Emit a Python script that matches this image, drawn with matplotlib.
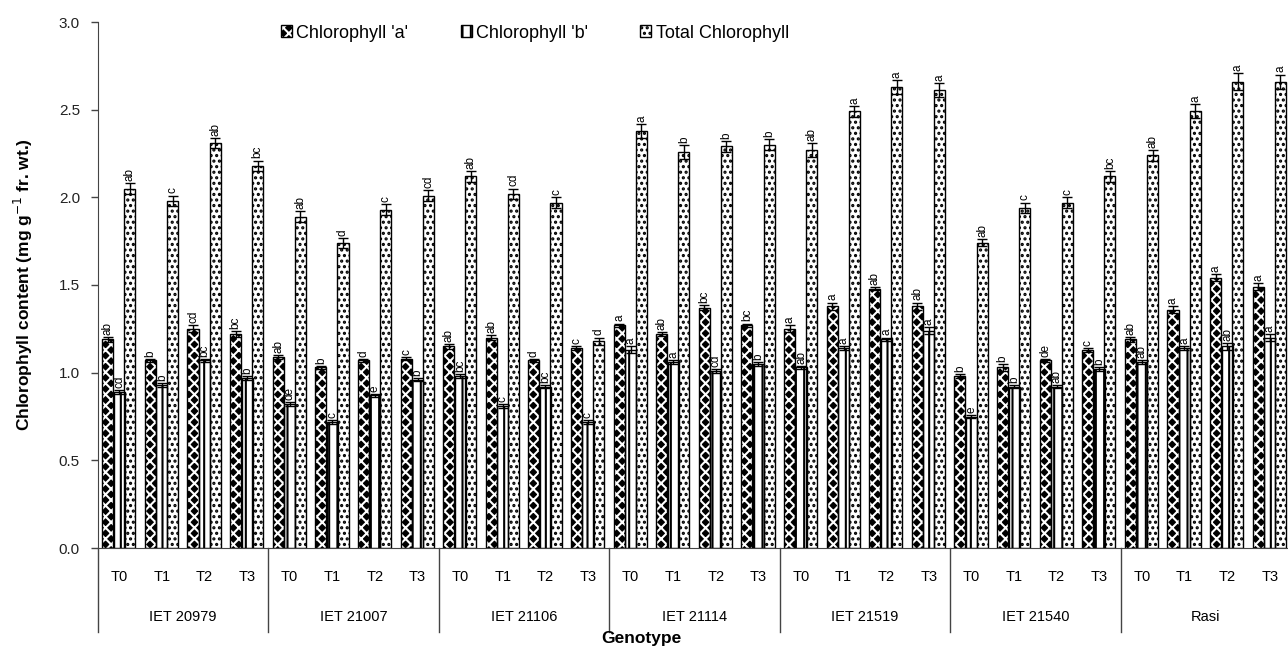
import matplotlib
matplotlib.use('Agg')
import matplotlib.pyplot as plt
import matplotlib.transforms as mtransforms
from matplotlib.patches import Patch
from matplotlib.legend_handler import HandlerTuple
import numpy as np

plt.rcParams['font.family'] = ['Liberation Sans', 'DejaVu Sans']
plt.rcParams['hatch.linewidth'] = 1.5

genotypes = ['IET 20979', 'IET 21007', 'IET 21106', 'IET 21114', 'IET 21519', 'IET 21540', 'Rasi']
treatments = ['T0', 'T1', 'T2', 'T3']

# values per genotype x treatment (T0..T3)
chl_a = [1.19, 1.07, 1.25, 1.22,
         1.09, 1.03, 1.07, 1.08,
         1.15, 1.20, 1.07, 1.14,
         1.27, 1.22, 1.37, 1.27,
         1.25, 1.38, 1.48, 1.38,
         0.98, 1.03, 1.07, 1.13,
         1.19, 1.36, 1.54, 1.49]
chl_b = [0.89, 0.93, 1.07, 0.97,
         0.82, 0.72, 0.87, 0.96,
         0.98, 0.81, 0.92, 0.72,
         1.13, 1.06, 1.01, 1.05,
         1.03, 1.14, 1.19, 1.24,
         0.75, 0.92, 0.92, 1.02,
         1.06, 1.14, 1.15, 1.20]
chl_tot = [2.05, 1.98, 2.31, 2.18,
           1.89, 1.74, 1.93, 2.01,
           2.12, 2.02, 1.97, 1.18,
           2.38, 2.26, 2.29, 2.30,
           2.27, 2.49, 2.63, 2.61,
           1.74, 1.94, 1.97, 2.12,
           2.24, 2.49, 2.66, 2.66]

err_a = [0.015, 0.01, 0.02, 0.015, 0.01, 0.01, 0.01, 0.01, 0.015, 0.015, 0.01, 0.01,
         0.01, 0.01, 0.015, 0.01, 0.02, 0.02, 0.01, 0.02, 0.01, 0.02, 0.01, 0.01,
         0.015, 0.02, 0.02, 0.02]
err_b = [0.01, 0.01, 0.01, 0.01, 0.01, 0.01, 0.01, 0.01, 0.01, 0.01, 0.01, 0.01,
         0.02, 0.01, 0.01, 0.01, 0.01, 0.01, 0.01, 0.02, 0.01, 0.01, 0.01, 0.01,
         0.01, 0.01, 0.02, 0.02]
err_tot = [0.03, 0.03, 0.03, 0.03, 0.03, 0.03, 0.03, 0.03, 0.03, 0.03, 0.03, 0.02,
           0.04, 0.04, 0.03, 0.03, 0.04, 0.03, 0.04, 0.04, 0.02, 0.03, 0.03, 0.03,
           0.03, 0.04, 0.05, 0.04]

let_a = ['ab', 'b', 'cd', 'bc', 'ab', 'b', 'd', 'c', 'ab', 'ab', 'd', 'c',
         'a', 'ab', 'bc', 'bc', 'a', 'a', 'ab', 'ab', 'b', 'b', 'de', 'c',
         'ab', 'a', 'a', 'a']
let_b = ['cd', 'b', 'bc', 'b', 'de', 'c', 'e', 'b', 'bc', 'c', 'bc', 'c',
         'a', 'a', 'cd', 'b', 'ab', 'a', 'a', 'a', 'e', 'b', 'ab', 'b',
         'ab', 'a', 'ab', 'a']
let_tot = ['ab', 'c', 'ab', 'bc', 'ab', 'd', 'c', 'cd', 'ab', 'cd', 'c', 'd',
           'a', 'b', 'b', 'b', 'ab', 'a', 'a', 'a', 'ab', 'c', 'c', 'bc',
           'ab', 'a', 'a', 'a']

fig = plt.figure(figsize=(12.88, 6.48), dpi=100)
ax = fig.add_axes([98 / 1288, 1 - 548 / 648, 1193 / 1288, 526 / 648])

x = np.arange(len(chl_a))
w = 0.26
series = [
    (chl_a, err_a, let_a, -0.27, 'black', 'white', 'xxx'),
    (chl_b, err_b, let_b, 0.0, 'white', 'black', '||'),
    (chl_tot, err_tot, let_tot, 0.25, 'white', 'black', '...'),
]

handles = []
for vals, errs, lets, off, fc, hc, hatch in series:
    xs = x + off
    ax.bar(xs, vals, w, color=fc, edgecolor=hc, hatch=hatch, linewidth=0, zorder=2)
    ax.bar(xs, vals, w, fill=False, edgecolor='black', linewidth=1.0, zorder=3)
    ax.errorbar(xs, vals, yerr=errs, fmt='none', ecolor='black', elinewidth=1.0,
                capsize=3.5, capthick=1.0, zorder=4)
    for xi, v, e, t in zip(xs, vals, errs, lets):
        ax.text(xi, v + e + 0.012, t, rotation=90, ha='center', va='bottom',
                fontsize=8.5, zorder=5)
    handles.append((Patch(facecolor=fc, edgecolor=hc, hatch=hatch, linewidth=0),
                    Patch(fill=False, edgecolor='black', linewidth=1.0)))

ax.set_xlim(-0.5, len(chl_a) - 0.5)
ax.set_ylim(0, 3.0)
ax.set_yticks(np.arange(0, 3.01, 0.5))
ax.set_yticklabels([f'{v:.1f}' for v in np.arange(0, 3.01, 0.5)], fontsize=11, color='#222222')
ax.tick_params(axis='y', direction='out', length=5, width=1, color='#444444', pad=8)
ax.set_xticks([])
for s in ['top', 'right']:
    ax.spines[s].set_visible(False)
ax.spines['left'].set_color('#444444')
ax.spines['bottom'].set_color('#444444')

trans = mtransforms.blended_transform_factory(ax.transData, ax.transAxes)
for i, t in enumerate(treatments * len(genotypes)):
    ax.text(i, -0.055, t, transform=trans, ha='center', va='center', fontsize=10.5)
for g, name in enumerate(genotypes):
    ax.text(g * 4 + 1.5, -0.131, name, transform=trans, ha='center', va='center', fontsize=10.5)
for g in range(len(genotypes) + 1):
    ax.plot([g * 4 - 0.5, g * 4 - 0.5], [0, -0.16], transform=trans, color='#444444',
            linewidth=1.0, clip_on=False)

ax.set_ylabel('Chlorophyll content (mg g$^{-1}$ fr. wt.)', fontsize=12.5, fontweight='bold')
ax.yaxis.set_label_coords(-0.053, 0.5)
fig.text(641 / 1288, 1 - 638 / 648, 'Genotype', ha='center', va='center',
         fontsize=12.5, fontweight='bold')

ax.legend(handles, ["Chlorophyll 'a'", "Chlorophyll 'b'", 'Total Chlorophyll'],
          handler_map={tuple: HandlerTuple(ndivide=1, pad=0)},
          ncol=3, frameon=False, loc='center left', fontsize=13,
          bbox_to_anchor=(281 / 1288, 1 - 33 / 648), bbox_transform=fig.transFigure,
          handlelength=0.6, handleheight=0.6, handletextpad=0.25, columnspacing=2.9,
          borderpad=0, borderaxespad=0)

fig.savefig('out.png', dpi=100)
